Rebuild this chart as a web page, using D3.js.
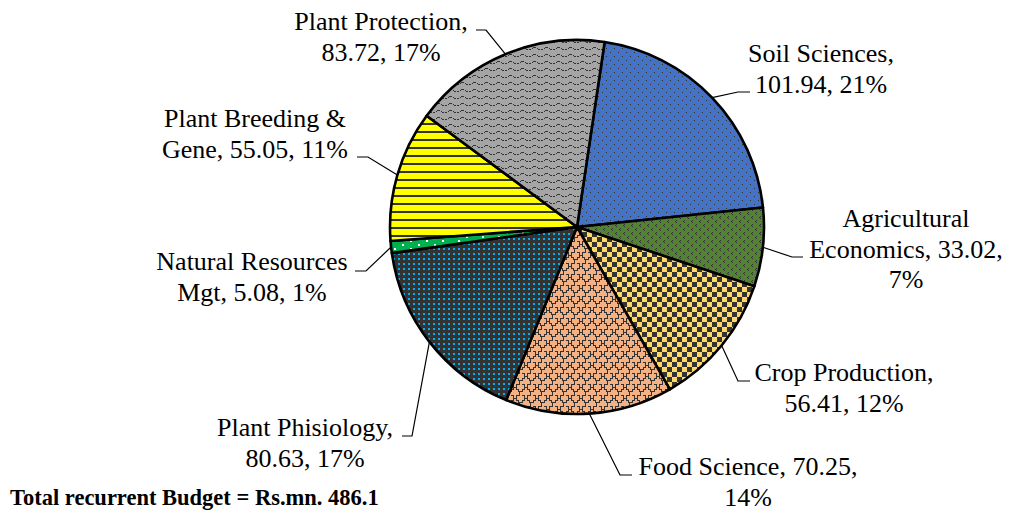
<!DOCTYPE html>
<html>
<head>
<meta charset="utf-8">
<script src="https://cdn.jsdelivr.net/npm/d3@7/dist/d3.min.js"></script>
<style>
  body { margin: 0; background: #fff; }
  svg { display: block; }
  text { font-family: "Liberation Serif", "Times New Roman", serif; fill: #000; }
</style>
</head>
<body>
<div id="chart"></div>
<script>
// budget by department, clockwise from the top
var categories = ["Soil Sciences", "Agricultural Economics", "Crop Production", "Food Science",
  "Plant Phisiology", "Natural Resources Mgt", "Plant Breeding & Gene", "Plant Protection"];
var values = [101.94, 33.02, 56.41, 70.25, 80.63, 5.08, 55.05, 83.72];
var totalLabel = "Total recurrent Budget = Rs.mn. 486.1";

// label text lines (as wrapped in the original)
var labelLines = [
  ["Soil Sciences,", "101.94, 21%"],
  ["Agricultural", "Economics, 33.02,", "7%"],
  ["Crop Production,", "56.41, 12%"],
  ["Food Science, 70.25,", "14%"],
  ["Plant Phisiology,", "80.63, 17%"],
  ["Natural Resources", "Mgt, 5.08, 1%"],
  ["Plant Breeding &", "Gene, 55.05, 11%"],
  ["Plant Protection,", "83.72, 17%"]
];

var width = 1011, height = 513;
var cx = 577, cy = 227, radius = 187;
var startAngle = 8.5 * Math.PI / 180;

// label placement: text centre/baseline, leader elbow and end
var labelLayout = [
  { tx: 821, ty: 62,  ex: 738, ey: 92,  hx: 750 },
  { tx: 906, ty: 227, ex: 792, ey: 257, hx: 803 },
  { tx: 844, ty: 381, ex: 738, ey: 381, hx: 750 },
  { tx: 748, ty: 475, ex: 620, ey: 475, hx: 632 },
  { tx: 305, ty: 436, ex: 412, ey: 436, hx: 402 },
  { tx: 252, ty: 270, ex: 366, ey: 271, hx: 355 },
  { tx: 255, ty: 127, ex: 368, ey: 157, hx: 357 },
  { tx: 381, ty: 30,  ex: 486, ey: 30,  hx: 476 }
];

var svg = d3.select("#chart").append("svg").attr("width", width).attr("height", height);
var defs = svg.append("defs");
var dark = "#333333";

function pattern(id, w, h, bg) {
  var p = defs.append("pattern").attr("id", id).attr("patternUnits", "userSpaceOnUse")
    .attr("width", w).attr("height", h)
    .attr("shape-rendering", "crispEdges");
  p.append("rect").attr("width", w).attr("height", h).attr("fill", bg);
  return p;
}
function dot(p, x, y, s, c) {
  p.append("rect").attr("x", x).attr("y", y).attr("width", s).attr("height", s).attr("fill", c);
}

// soil: blue with sparse dark dots
var p0 = pattern("p0", 8, 8, "#4472C4");
dot(p0, 1, 1, 1, dark); dot(p0, 5, 5, 1, dark);
// agri: green with small dark marks
var p1 = pattern("p1", 8, 8, "#548235");
[[2, 1], [6, 5]].forEach(function (d) {
  dot(p1, d[0] + 1, d[1], 1, dark); dot(p1, d[0], d[1] + 1, 1, dark); dot(p1, d[0] + 1, d[1] + 2, 1, dark);
});
// crop: checkerboard
var p2 = pattern("p2", 10, 10, "#FFD966");
dot(p2, 0, 0, 5, dark); dot(p2, 5, 5, 5, dark);
// food: shingles
var p3 = pattern("p3", 11, 11, "#F4B183");
p3.append("path")
  .attr("d", "M0.5,11 V8 H2.5 V6 H5.5 V3 H8.5 V0 M5.5,6 V8 H7.5 V10 H11 M0,3 H2.5 V5.5")
  .attr("fill", "none").attr("stroke", dark).attr("stroke-width", 1);
// physiology: dark with cyan dots
var p4 = pattern("p4", 5, 5, dark);
dot(p4, 1, 1, 2, "#00B0F0");
// natural resources: green with white dots
var p5 = pattern("p5", 16, 8, "#00B050");
dot(p5, 1, 1, 2, "#fff"); dot(p5, 9, 5, 2, "#fff");
// breeding: yellow with horizontal lines
var p6 = pattern("p6", 8, 8, "#FFFF00");
p6.append("rect").attr("y", 0).attr("width", 8).attr("height", 2).attr("fill", dark);
// protection: grey with waves
var p7 = pattern("p7", 12, 7, "#A5A5A5");
[[0, 4, 2], [3, 3, 1], [4, 2, 3], [8, 3, 1], [9, 4, 2]].forEach(function (d) {
  p7.append("rect").attr("x", d[0]).attr("y", d[1]).attr("width", d[2]).attr("height", 1).attr("fill", dark);
});

var pie = d3.pie().sort(null).startAngle(startAngle).endAngle(startAngle + 2 * Math.PI);
var arc = d3.arc().innerRadius(0).outerRadius(radius);
var edgeArc = d3.arc().innerRadius(radius).outerRadius(radius);
var arcs = pie(values);

var g = svg.append("g").attr("transform", "translate(" + cx + "," + cy + ")");
g.selectAll("path.slice").data(arcs).enter().append("path")
  .attr("class", "slice")
  .attr("d", arc)
  .attr("fill", function (d, i) { return "url(#p" + i + ")"; })
  .attr("stroke", "#000").attr("stroke-width", 2.6).attr("stroke-linejoin", "round");

// leader lines
svg.selectAll("path.leader").data(arcs).enter().append("path")
  .attr("class", "leader")
  .attr("d", function (d, i) {
    var c = edgeArc.centroid(d), L = labelLayout[i];
    return "M" + (cx + c[0]) + "," + (cy + c[1]) + " L" + L.ex + "," + L.ey + " L" + L.hx + "," + L.ey;
  })
  .attr("fill", "none").attr("stroke", "#000").attr("stroke-width", 1.2);

// labels
var labels = svg.selectAll("text.label").data(labelLines).enter().append("text")
  .attr("class", "label")
  .attr("text-anchor", "middle")
  .style("font-size", "26px");
labels.each(function (lines, i) {
  var t = d3.select(this), L = labelLayout[i];
  lines.forEach(function (s, k) {
    t.append("tspan").attr("x", L.tx).attr("y", L.ty + k * 30.5).text(s);
  });
});

svg.append("text").attr("x", 10).attr("y", 505)
  .style("font-size", "22.5px").style("font-weight", "bold")
  .text(totalLabel);
</script>
</body>
</html>
